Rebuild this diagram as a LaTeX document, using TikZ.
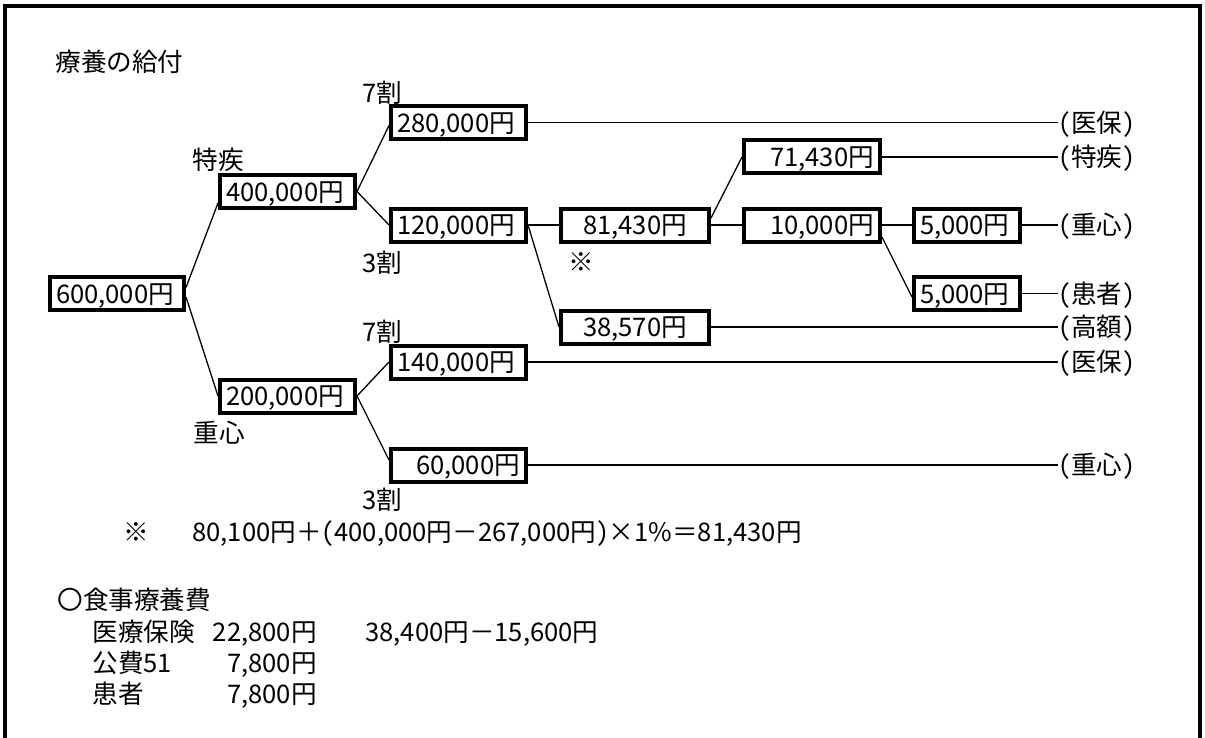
\documentclass[tikz,border=0pt]{standalone}
\usepackage{fontspec}
\setmainfont{Noto Sans CJK JP}
\newfontfamily\hw{Noto Sans CJK JP}[RawFeature=+hwid]
\begin{document}
\begin{tikzpicture}[x=0.5pt,y=-0.5pt,
  every node/.style={font=\fontsize{12.8pt}{15pt}\selectfont},
  txt/.style={inner sep=0pt, anchor=west, text height=11.3pt, text depth=1.5pt},
  txte/.style={txt, anchor=east},
  lab/.style={txt, font=\fontsize{12.8pt}{15pt}\hw},
  box/.style={draw, line width=2pt, inner xsep=3pt, inner ysep=0pt,
    minimum height=16.5pt, text height=11.3pt, text depth=1.5pt},
  wire/.style={line width=0.65pt},
  frame/.style={line width=2pt, line join=miter}]
\useasboundingbox (0,0) rectangle (1205,738);
% frame (open at the bottom)
\draw[frame] (5,738) -- (5,6) -- (1200,6) -- (1200,738);

% title and side labels
\node[txt] (title) at (55,62) {療養の給付};
\node[txt] (r7a) at (362,93) {7割};
\node[txt] (tok) at (192,160) {特疾};
\node[txt] (r3a) at (362,263) {3割};
\node[txt] (kome1) at (568,262) {※};
\node[txt] (r7b) at (362,332) {7割};
\node[txt] (jus) at (193,433) {重心};
\node[txt] (r3b) at (362,500) {3割};

% boxes
\node[box, text width=61pt, align=left] (b600) at (117,293.5) {600,000円};
\node[box, text width=61.5pt, align=left] (b400) at (287.5,191.5) {400,000円};
\node[box, text width=61.5pt, align=left] (b200) at (287.5,396) {200,000円};
\node[box, text width=61.5pt, align=left] (b280) at (458.5,122.5) {280,000円};
\node[box, text width=61.5pt, align=left] (b120) at (458.5,225) {120,000円};
\node[box, text width=61.5pt, align=left] (b140) at (458.5,362) {140,000円};
\node[box, text width=61.5pt, align=right] (b60) at (458.5,465) {60,000円\hspace*{3pt}};
\node[box, text width=68pt, align=center] (b81) at (635,225) {81,430円};
\node[box, text width=68pt, align=center] (b38) at (635,327) {38,570円};
\node[box, text width=62pt, align=right] (b71) at (812,157) {71,430円\hspace*{3.5pt}};
\node[box, text width=62pt, align=right] (b10) at (812,225) {10,000円\hspace*{3.5pt}};
\node[box, text width=47pt, align=left] (b5a) at (967,225) {5,000円};
\node[box, text width=47pt, align=left] (b5b) at (967,293.5) {5,000円};

% right-hand labels
\node[lab] (l1) at (1058,122.5) {(医保)};
\node[lab] (l2) at (1058,157) {(特疾)};
\node[lab] (l3) at (1058,225) {(重心)};
\node[lab] (l4) at (1058,293.5) {(患者)};
\node[lab] (l5) at (1058,327) {(高額)};
\node[lab] (l6) at (1058,362) {(医保)};
\node[lab] (l7) at (1058,465) {(重心)};

% tree connectors
\draw[wire] ([yshift=3pt]b600.east) -- ([yshift=-5.75pt]b400.west);
\draw[wire] ([yshift=-1.75pt]b600.east) -- (b200.west);
\draw[wire] (b400.east) -- ([yshift=-1.5pt]b280.west);
\draw[wire] (b400.east) -- (b120.west);
\draw[wire] (b200.east) -- (b140.west);
\draw[wire] (b200.east) -- ([yshift=2.5pt]b60.west);
\draw[wire] (b120.east) -- (b81.west);
\draw[wire] (b120.east) -- (b38.west);
\draw[wire] ([yshift=3.5pt]b81.east) -- (b71.west);
\draw[wire] (b81.east) -- (b10.west);
\draw[wire] (b10.east) -- (b5a.west);
\draw[wire] ([yshift=-6pt]b10.east) -- ([yshift=-1.75pt]b5b.west);

% output lines
\draw[wire] (b280.east) -- (l1.west);
\draw[wire] (b71.east) -- (l2.west);
\draw[wire] (b5a.east) -- (l3.west);
\draw[wire] (b5b.east) -- (l4.west);
\draw[wire] (b38.east) -- (l5.west);
\draw[wire] (b140.east) -- (l6.west);
\draw[wire] (b60.east) -- (l7.west);

% footnote and meal costs
\node[txt] (kome2) at (123,532) {※};
\node[txt] (formula) at (192,532) {80,100円＋{\hw(}400,000円－267,000円{\hw)}×1\%＝81,430円};
\node[txt] (meal) at (57,600) {〇食事療養費};
\node[txt] (m1) at (92,632) {医療保険};
\node[txte] (m1v) at (317,632) {22,800円};
\node[txt] (m1c) at (365,632) {38,400円－15,600円};
\node[txt] (m2) at (92,663) {公費51};
\node[txte] (m2v) at (317,663) {7,800円};
\node[txt] (m3) at (92,694) {患者};
\node[txte] (m3v) at (317,694) {7,800円};
\end{tikzpicture}
\end{document}
